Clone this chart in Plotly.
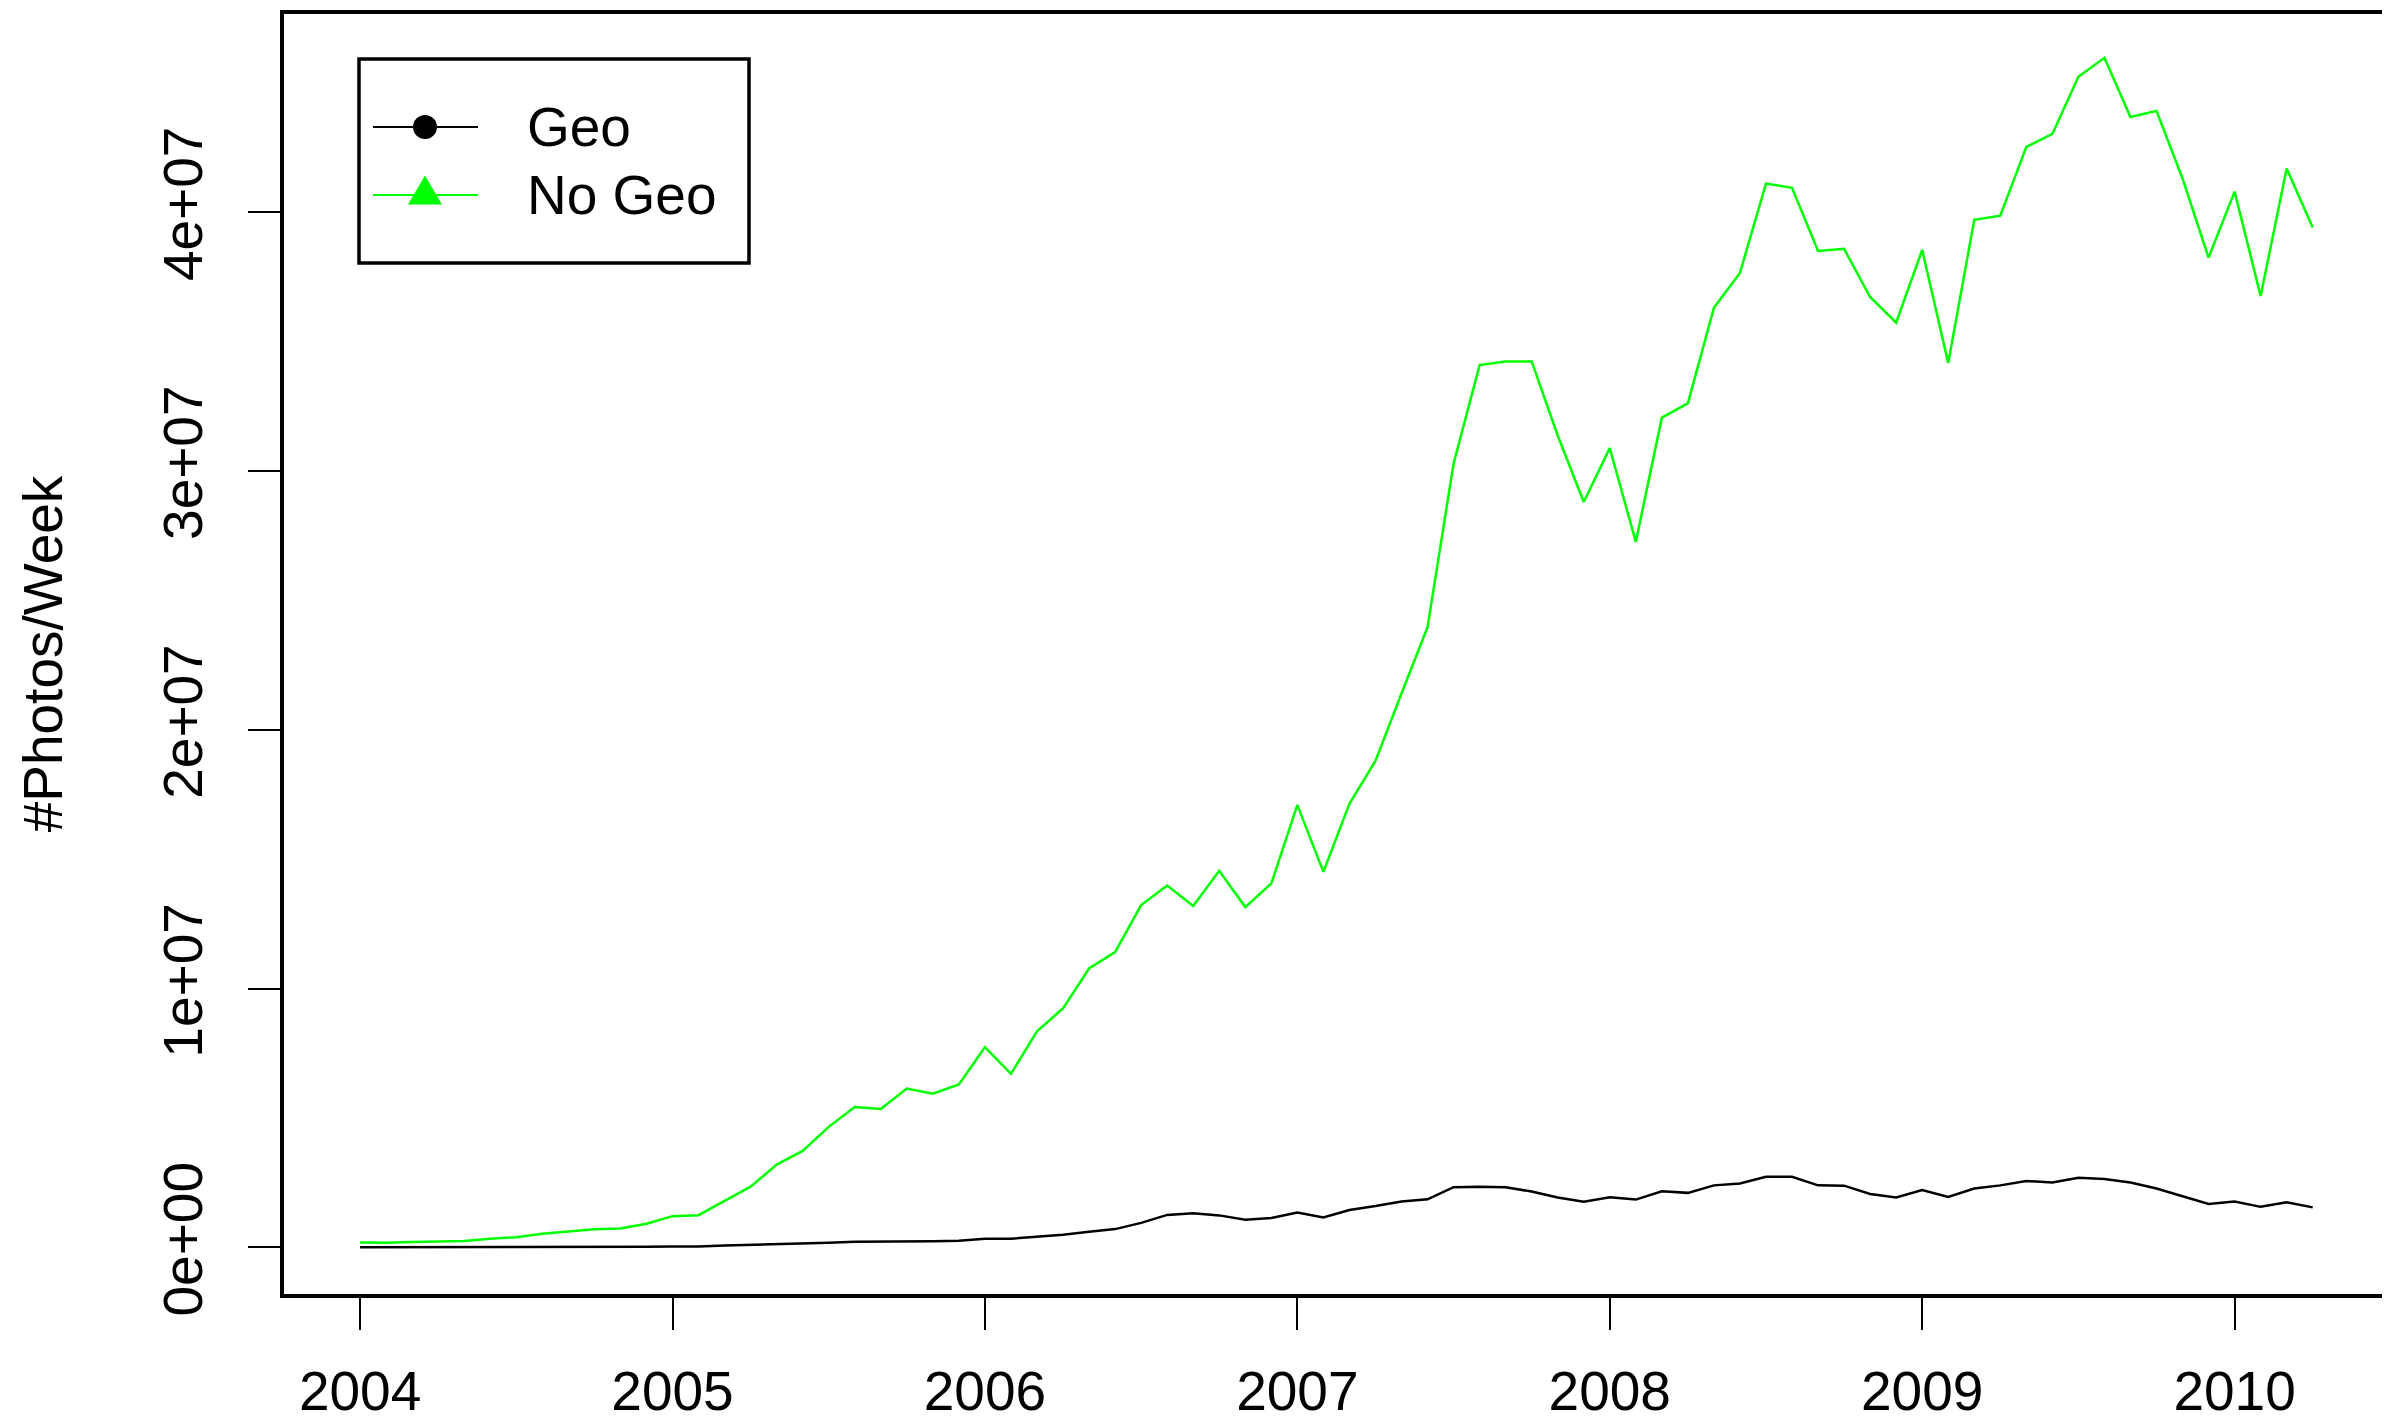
import plotly.graph_objects as go

# ---------------- data (values in millions of photos per week) ----------------
start_year = 2004
n_months = 76  # Jan 2004 .. Apr 2010, monthly
years = [start_year + i / 12 for i in range(n_months)]

geo_m = [0.01, 0.01, 0.01, 0.01, 0.01, 0.02, 0.02, 0.02, 0.02, 0.03, 0.03, 0.03,
         0.04, 0.04, 0.08, 0.10, 0.14, 0.16, 0.18, 0.22, 0.22, 0.24, 0.24, 0.26,
         0.34, 0.34, 0.41, 0.49, 0.61, 0.71, 0.95, 1.26, 1.32, 1.24, 1.07, 1.14,
         1.35, 1.16, 1.45, 1.60, 1.78, 1.86, 2.33, 2.35, 2.33, 2.16, 1.93, 1.77,
         1.94, 1.85, 2.17, 2.11, 2.40, 2.47, 2.73, 2.73, 2.40, 2.39, 2.07, 1.93,
         2.22, 1.95, 2.28, 2.40, 2.57, 2.51, 2.69, 2.65, 2.51, 2.28, 1.98, 1.68,
         1.78, 1.57, 1.75, 1.55]

nogeo_m = [0.19, 0.18, 0.21, 0.22, 0.25, 0.34, 0.40, 0.53, 0.62, 0.70, 0.73, 0.92,
           1.21, 1.25, 1.80, 2.35, 3.20, 3.73, 4.66, 5.43, 5.35, 6.14, 5.94, 6.30,
           7.74, 6.71, 8.35, 9.24, 10.78, 11.41, 13.23, 13.98, 13.19, 14.55, 13.15, 14.06,
           17.10, 14.51, 17.14, 18.80, 21.40, 23.96, 30.28, 34.09, 34.23, 34.23, 31.37, 28.80,
           30.88, 27.26, 32.06, 32.61, 36.30, 37.65, 41.10, 40.94, 38.50, 38.58, 36.72, 35.73,
           38.54, 34.17, 39.70, 39.86, 42.52, 43.02, 45.23, 45.96, 43.67, 43.91, 41.30, 38.24,
           40.79, 36.76, 41.68, 39.40]

geo = [v * 1e6 for v in geo_m]
nogeo = [v * 1e6 for v in nogeo_m]

x_tick_vals = [2004, 2005, 2006, 2007, 2008, 2009, 2010]
x_tick_text = ["2004", "2005", "2006", "2007", "2008", "2009", "2010"]
y_tick_vals = [0, 1e7, 2e7, 3e7, 4e7]
y_tick_text = ["0e+00", "1e+07", "2e+07", "3e+07", "4e+07"]

series_names = ["Geo", "No Geo"]
series_colors = ["black", "#00FF00"]

# ---------------- figure geometry ----------------
W, H = 2382, 1416           # page body has an 8px margin
PAGE_OFF = 8
ML, MR, MT, MB = 274, 2, 4, 128
FONT = "Liberation Sans, Arial, Helvetica, sans-serif"
FS = 55

pw, ph = W - ML - MR, H - MT - MB


def px_x(p):  # page pixel -> paper x
    return (p - PAGE_OFF - ML) / pw


def px_y(p):  # page pixel -> paper y
    return 1 - (p - PAGE_OFF - MT) / ph


fig = go.Figure()
for name, vals, col in zip(series_names, [geo, nogeo], series_colors):
    fig.add_trace(go.Scatter(x=years, y=vals, mode="lines", name=name,
                             line=dict(color=col, width=2.5), showlegend=False))

shapes = []
# plot frame (box)
shapes.append(dict(type="rect", xref="paper", yref="paper", x0=0, x1=1, y0=0, y1=1,
                   line=dict(color="black", width=4), fillcolor="rgba(0,0,0,0)", layer="above"))
# legend box
shapes.append(dict(type="rect", xref="paper", yref="paper",
                   x0=px_x(359), x1=px_x(749), y0=px_y(263), y1=px_y(59),
                   line=dict(color="black", width=3.5), fillcolor="rgba(0,0,0,0)"))
annotations = []
rows_y = [127, 195]
for (name, col, ry) in zip(series_names, series_colors, rows_y):
    shapes.append(dict(type="line", xref="paper", yref="paper",
                       x0=px_x(373), x1=px_x(478), y0=px_y(ry), y1=px_y(ry),
                       line=dict(color=col, width=2)))
    annotations.append(dict(text=name, xref="paper", yref="paper", x=px_x(525), y=px_y(ry),
                            xanchor="left", yanchor="middle", showarrow=False,
                            font=dict(family=FONT, size=FS, color="black")))
# legend symbols: filled circle (Geo) and filled triangle (No Geo)
shapes.append(dict(type="circle", xref="paper", yref="paper",
                   x0=px_x(425 - 12), x1=px_x(425 + 12), y0=px_y(127 + 12), y1=px_y(127 - 12),
                   line=dict(color="black", width=0), fillcolor="black"))
tri = "M {:.6f},{:.6f} L {:.6f},{:.6f} L {:.6f},{:.6f} Z".format(
    px_x(408), px_y(204.5), px_x(425), px_y(175.5), px_x(442), px_y(204.5))
shapes.append(dict(type="path", xref="paper", yref="paper", path=tri,
                   line=dict(color="#00FF00", width=0), fillcolor="#00FF00"))

axis_common = dict(showline=False, ticks="outside", ticklen=33, tickwidth=2, tickcolor="black",
                   showgrid=False, zeroline=False, automargin=False,
                   tickfont=dict(family=FONT, size=FS, color="black"))

fig.update_layout(
    width=W, height=H,
    margin=dict(l=ML, r=MR, t=MT, b=MB),
    paper_bgcolor="white", plot_bgcolor="white",
    font=dict(family=FONT, color="black"),
    xaxis=dict(range=[2003.75, 2010.491], tickmode="array", tickvals=x_tick_vals,
               ticktext=x_tick_text, ticklabelstandoff=14, **axis_common),
    yaxis=dict(range=[-1.874e6, 47.73e6], tickmode="array", tickvals=y_tick_vals,
               ticktext=y_tick_text, tickangle=-90, ticklabelstandoff=24,
               title=dict(text="#Photos/Week", font=dict(family=FONT, size=FS, color="black"),
                          standoff=71),
               **axis_common),
    shapes=shapes,
    annotations=annotations,
    showlegend=False,
)

fig.write_html("out.html")
